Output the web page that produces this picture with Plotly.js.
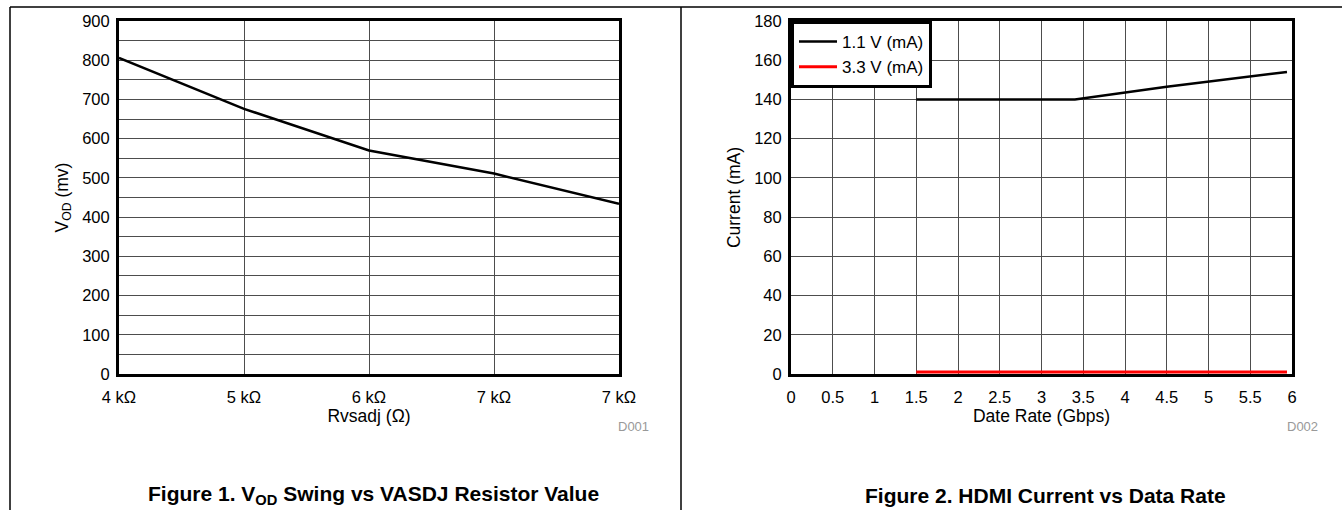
<!DOCTYPE html>
<html><head><meta charset="utf-8">
<script src="https://cdn.plot.ly/plotly-3.0.1.min.js"></script>
<style>html,body{margin:0;padding:0;background:#fff}#chart{width:1342px;height:510px}</style>
</head><body><div id="chart"></div>
<script>
// Figure 1 data
const resistorK = [4, 5, 6, 7, 8];
const vodMv = [806, 676, 570, 511, 434];
const resistorTickVals = [4, 5, 6, 7, 8];
const resistorTickText = ["4 kΩ", "5 kΩ", "6 kΩ", "7 kΩ", "7 kΩ"];
// Figure 2 data
const rate11 = [1.5, 3.4, 4.5, 5.94];
const current11 = [140, 140, 146.5, 154];
const rate33 = [1.5, 5.94];
const current33 = [1, 1];

const W = 1342, H = 510;
const px = v => v / W, py = v => 1 - v / H;
const FONT = "Liberation Sans, Arial, sans-serif";
const yDom = [py(374), py(21)];

const axisCommon = {
  showline: true, mirror: true, linewidth: 3, linecolor: "#000",
  showgrid: true, gridcolor: "#4d4d4d", gridwidth: 1, zeroline: false,
  ticks: "", tickfont: {family: FONT, size: 16.5, color: "#000"},
  fixedrange: true
};

const traces = [
  {x: resistorK, y: vodMv, type: "scatter", mode: "lines", xaxis: "x", yaxis: "y",
   line: {color: "#000", width: 2.5}, showlegend: false},
  {x: rate11, y: current11, type: "scatter", mode: "lines", xaxis: "x2", yaxis: "y2",
   name: "1.1 V (mA)", line: {color: "#000", width: 2.5}},
  {x: rate33, y: current33, type: "scatter", mode: "lines", xaxis: "x2", yaxis: "y2",
   name: "3.3 V (mA)", line: {color: "#ff0000", width: 3}}
];

const layout = {
  width: W, height: H,
  margin: {l: 0, r: 0, t: 0, b: 0},
  paper_bgcolor: "#fff", plot_bgcolor: "#fff",
  font: {family: FONT, color: "#000"},
  xaxis: Object.assign({}, axisCommon, {
    domain: [px(119), px(619)], anchor: "y", range: [4, 8],
    tickvals: resistorTickVals, ticktext: resistorTickText, ticklabelstandoff: 6,
    title: {text: "Rvsadj (Ω)", font: {family: FONT, size: 17.5}, standoff: 3}
  }),
  yaxis: Object.assign({}, axisCommon, {
    domain: yDom, anchor: "x", range: [0, 900], dtick: 100, tick0: 0,
    minor: {dtick: 50, showgrid: true, gridcolor: "#4d4d4d", gridwidth: 1, ticks: ""},
    ticklabelstandoff: 3,
    title: {text: "V<sub>OD</sub> (mv)", font: {family: FONT, size: 17.5}, standoff: 10}
  }),
  xaxis2: Object.assign({}, axisCommon, {
    domain: [px(791), px(1292)], anchor: "y2", range: [0, 6], dtick: 0.5, tick0: 0,
    ticklabelstandoff: 6,
    title: {text: "Date Rate (Gbps)", font: {family: FONT, size: 17.5}, standoff: 3}
  }),
  yaxis2: Object.assign({}, axisCommon, {
    domain: yDom, anchor: "x2", range: [0, 180], dtick: 20, tick0: 0,
    ticklabelstandoff: 3,
    title: {text: "Current (mA)", font: {family: FONT, size: 17.5}, standoff: 10}
  }),
  showlegend: true,
  legend: {
    x: px(791), y: py(21), xanchor: "left", yanchor: "top",
    bgcolor: "#fff", bordercolor: "#000", borderwidth: 3,
    font: {family: FONT, size: 17, color: "#000"},
    itemwidth: 38, tracegroupgap: 0
  },
  shapes: [
    {type: "line", xref: "paper", yref: "paper", x0: px(10), x1: 1, y0: py(7), y1: py(7), line: {color: "#000", width: 1.5}},
    {type: "line", xref: "paper", yref: "paper", x0: px(10), x1: px(10), y0: py(7), y1: 0, line: {color: "#000", width: 1.5}},
    {type: "line", xref: "paper", yref: "paper", x0: px(681), x1: px(681), y0: py(7), y1: 0, line: {color: "#000", width: 1.5}}
  ],
  annotations: [
    {text: "D001", xref: "paper", yref: "paper", x: px(633), y: py(426), xanchor: "center", yanchor: "middle",
     showarrow: false, font: {family: FONT, size: 13, color: "#999"}},
    {text: "D002", xref: "paper", yref: "paper", x: px(1302), y: py(426), xanchor: "center", yanchor: "middle",
     showarrow: false, font: {family: FONT, size: 13, color: "#999"}},
    {text: "<b>Figure 1. V<sub>OD</sub> Swing vs VASDJ Resistor Value</b>", xref: "paper", yref: "paper",
     x: px(373), y: py(495), xanchor: "center", yanchor: "middle", showarrow: false,
     font: {family: FONT, size: 21, color: "#000"}},
    {text: "<b>Figure 2. HDMI Current vs Data Rate</b>", xref: "paper", yref: "paper",
     x: px(1045), y: py(495), xanchor: "center", yanchor: "middle", showarrow: false,
     font: {family: FONT, size: 21, color: "#000"}}
  ]
};

Plotly.newPlot("chart", traces, layout, {displayModeBar: false, staticPlot: true});
</script>
</body></html>
